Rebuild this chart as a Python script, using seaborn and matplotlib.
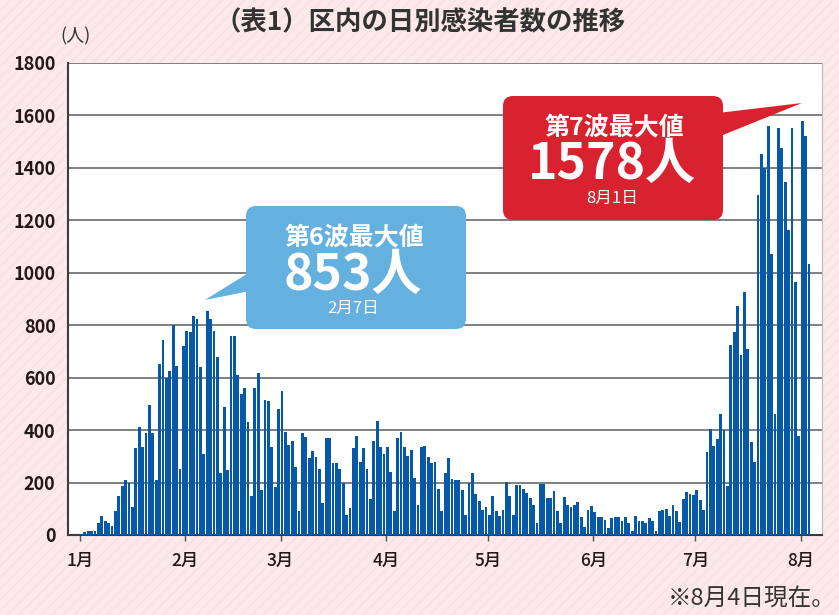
import numpy as np
import pandas as pd
import matplotlib
matplotlib.use("Agg")
import matplotlib.pyplot as plt
import seaborn as sns
from matplotlib.patches import FancyBboxPatch, Polygon, Rectangle

# ---- data (daily new cases, 1 Jan - 3 Aug) ----
month_labels = ["1月", "2月", "3月", "4月", "5月", "6月", "7月", "8月"]
jan = [5, 10, 15, 17, 17, 45, 74, 55, 45, 36, 93, 150, 188, 208, 197, 106, 331, 413, 334, 390,
       497, 390, 211, 654, 745, 600, 627, 802, 646, 252, 722]
feb = [779, 775, 836, 823, 639, 307, 853, 823, 779, 680, 238, 490, 246, 760, 760, 611, 538, 562,
       432, 150, 562, 619, 170, 515, 511, 336, 184, 481]
mar = [549, 394, 342, 358, 259, 92, 389, 374, 294, 320, 298, 252, 122, 370, 370, 275, 275, 252,
       198, 76, 103, 332, 378, 277, 331, 250, 136, 358, 434, 335, 308]
apr = [335, 240, 90, 369, 392, 335, 300, 323, 216, 113, 335, 338, 296, 274, 277, 174, 90, 235,
       292, 212, 208, 208, 170, 75, 197, 236, 155, 128, 94, 105]
may = [75, 147, 90, 71, 94, 201, 147, 78, 190, 190, 174, 159, 140, 113, 44, 193, 193, 140, 140,
       166, 92, 46, 145, 116, 107, 116, 124, 69, 31, 97, 112]
jun = [88, 67, 67, 56, 25, 63, 69, 67, 55, 67, 46, 15, 74, 55, 55, 44, 63, 55, 17, 90, 94, 98,
       71, 113, 90, 48, 139, 165, 158, 154]
jul = [170, 135, 94, 315, 403, 338, 368, 460, 400, 185, 723, 776, 872, 685, 925, 708, 353, 277,
       1295, 1452, 1399, 1560, 1071, 463, 1551, 1475, 1345, 1162, 1551, 965, 376]
aug = [1578, 1521, 1033]
monthly = [jan, feb, mar, apr, may, jun, jul, aug]
y_ticks = [0, 200, 400, 600, 800, 1000, 1200, 1400, 1600, 1800]

values = np.concatenate(monthly)
day = np.arange(len(values))
month_start = np.cumsum([0] + [len(m) for m in monthly[:-1]])
df = pd.DataFrame({"day": day, "cases": values})

# ---- style ----
sns.set_theme(style="white")
plt.rcParams["font.family"] = ["Noto Sans CJK JP", "DejaVu Sans"]
plt.rcParams["hatch.linewidth"] = 1.0

W, H = 839, 615
fig = plt.figure(figsize=(W / 100, H / 100), dpi=100, facecolor="#fce9ea")
px = fig.dpi_scale_trans


def P(x, y):
    return (x / 100, (H - y) / 100)


# subtle diagonal stripes in background
fig.patches.append(Rectangle((0, 0), 1, 1, transform=fig.transFigure, facecolor="none",
                             edgecolor="#f9e1e3", hatch="///", lw=0, zorder=-10))

L, R, T, B = 68, 822, 63, 535
ax = fig.add_axes([L / W, 1 - B / H, (R - L) / W, (B - T) / H])
ax.set_facecolor("white")

bw = 0.84
sns.barplot(data=df, x="day", y="cases", native_scale=True, width=bw, color="#0659a8",
            saturation=1, errorbar=None, ax=ax, zorder=3, linewidth=0, edgecolor="none")

ax.set_xlim(-3.53 - bw / 2, (R - 80) / 3.40 - bw / 2)
ax.set_ylim(0, 1800)
ax.set_yticks(y_ticks)
ax.set_yticklabels([str(v) for v in y_ticks], fontsize=13, color="#231815", fontweight="bold")
ax.yaxis.grid(True, color="#808080", lw=1.4, zorder=0)
ax.xaxis.grid(False)
ax.set_xticks(month_start - bw / 2)
ax.set_xticklabels(month_labels, fontsize=12.5, color="#231815", fontweight="medium")
ax.tick_params(axis="x", length=4, width=1, color="#555555", pad=8, direction="out", bottom=True)
ax.tick_params(axis="y", length=0, pad=9)
ax.set_xlabel("")
ax.set_ylabel("")
for s in ["left", "bottom"]:
    ax.spines[s].set_color("#3c3c3c")
    ax.spines[s].set_linewidth(1.5)
ax.spines["top"].set_visible(False)
ax.spines["right"].set_color("#bbbbbb")
ax.spines["right"].set_linewidth(0.8)

# ---- texts ----
fig.text(*P(420, 23), "（表1）区内の日別感染者数の推移", transform=px, ha="center", va="center",
         fontsize=19, fontweight="bold", color="#333333")
fig.text(*P(76, 36), "(人)", transform=px, ha="center", va="center", fontsize=13, color="#333333")
fig.text(*P(836, 598), "※8月4日現在。", transform=px, ha="right", va="center", fontsize=17,
         color="#333333")

# ---- callouts ----
blue = "#64b0df"
red = "#d9222f"
x0, y0, x1, y1 = 246, 206, 466, 329
fig.patches.append(FancyBboxPatch(P(x0, y1), (x1 - x0) / 100, (y1 - y0) / 100, transform=px,
                                  boxstyle="round,pad=0,rounding_size=0.1", fc=blue, ec="none", zorder=5))
fig.patches.append(Polygon([P(250, 272), P(205, 300), P(250, 291)], closed=True, transform=px,
                           fc=blue, ec="none", zorder=5))
fig.text(*P(354, 237), "第6波最大値", transform=px, ha="center", va="center", fontsize=18,
         fontweight="bold", color="white", zorder=6)
fig.text(*P(353, 275), "853人", transform=px, ha="center", va="center", fontsize=36,
         fontweight="bold", color="white", zorder=6)
fig.text(*P(353, 308), "2月7日", transform=px, ha="center", va="center", fontsize=12,
         color="white", zorder=6)

x0, y0, x1, y1 = 503, 96, 723, 220
fig.patches.append(FancyBboxPatch(P(x0, y1), (x1 - x0) / 100, (y1 - y0) / 100, transform=px,
                                  boxstyle="round,pad=0,rounding_size=0.1", fc=red, ec="none", zorder=5))
fig.patches.append(Polygon([P(718, 113), P(802, 103), P(718, 137)], closed=True, transform=px,
                           fc=red, ec="none", zorder=5))
fig.text(*P(614, 127), "第7波最大値", transform=px, ha="center", va="center", fontsize=18,
         fontweight="bold", color="white", zorder=6)
fig.text(*P(612, 164), "1578人", transform=px, ha="center", va="center", fontsize=36,
         fontweight="bold", color="white", zorder=6)
fig.text(*P(612, 198), "8月1日", transform=px, ha="center", va="center", fontsize=12,
         color="white", zorder=6)

fig.savefig("out.png", dpi=100, facecolor=fig.get_facecolor())
